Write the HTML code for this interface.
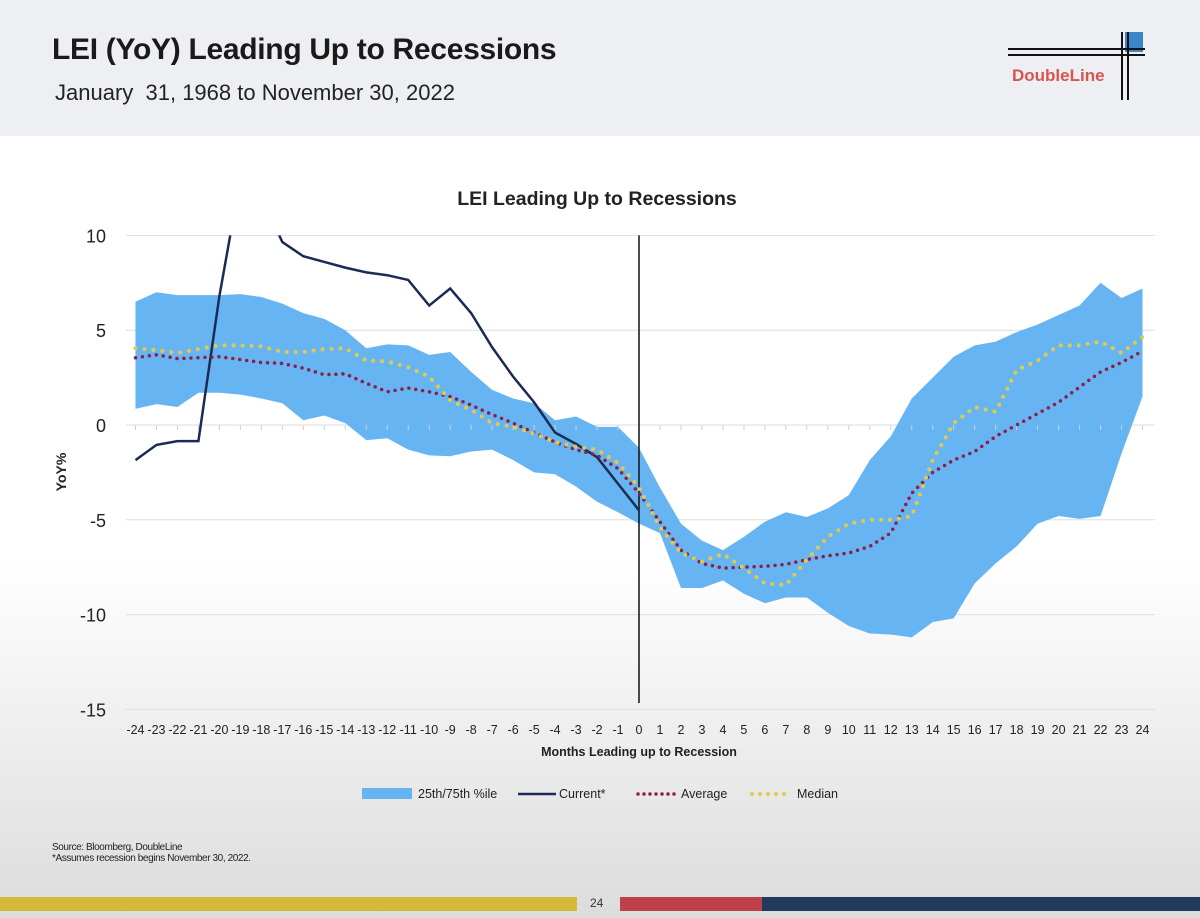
<!DOCTYPE html>
<html><head><meta charset="utf-8"><style>
body{margin:0;width:1200px;height:918px;overflow:hidden;font-family:"Liberation Sans",sans-serif;background:linear-gradient(#ffffff 0px,#ffffff 560px,#dcdcdc 918px);position:relative}
#hdr{position:absolute;left:0;top:0;width:1200px;height:136px;background:#edeff2}
.abs{position:absolute}
</style></head><body>
<div id="hdr"></div>
<div class="abs" style="left:52px;top:33px;font-size:30px;font-weight:bold;color:#1a1a1a;letter-spacing:-0.3px">LEI (YoY) Leading Up to Recessions</div>
<div class="abs" style="left:55px;top:80px;font-size:22px;color:#222">January&nbsp; 31, 1968 to November 30, 2022</div>
<svg class="abs" style="left:1000px;top:28px" width="160" height="80">
<rect x="125" y="4" width="18" height="20" fill="#3a86c8"/>
<line x1="8" y1="21" x2="145" y2="21" stroke="#111" stroke-width="2"/>
<line x1="8" y1="27" x2="145" y2="27" stroke="#111" stroke-width="2"/>
<line x1="122" y1="4" x2="122" y2="72" stroke="#111" stroke-width="2"/>
<line x1="128" y1="4" x2="128" y2="72" stroke="#111" stroke-width="2"/>
<text x="12" y="53" font-size="17" font-weight="bold" fill="#d9534f" font-family="Liberation Sans, sans-serif">DoubleLine</text>
</svg>
<svg id="chart" class="abs" style="left:0;top:0" width="1200" height="918"></svg>
<div class="abs" style="left:52px;top:842px;font-size:10px;color:#222;letter-spacing:-0.4px">Source: Bloomberg, DoubleLine<br>*Assumes recession begins November 30, 2022.</div>
<div class="abs" style="left:0;top:897px;width:577px;height:14px;background:#d4b93a"></div>
<div class="abs" style="left:590px;top:896px;font-size:12px;color:#333">24</div>
<div class="abs" style="left:620px;top:897px;width:142px;height:14px;background:#c0404a"></div>
<div class="abs" style="left:762px;top:897px;width:438px;height:14px;background:#1f3a5c"></div>
<script>
const months=[];for(let m=-24;m<=24;m++)months.push(m);
const upper=[6.5,7.0,6.85,6.85,6.85,6.9,6.75,6.4,5.9,5.6,5.0,4.05,4.25,4.2,3.7,3.85,2.8,1.85,1.4,1.15,0.25,0.45,-0.1,-0.1,-1.2,-3.3,-5.2,-6.1,-6.6,-5.9,-5.1,-4.6,-4.85,-4.4,-3.7,-1.85,-0.6,1.4,2.5,3.6,4.2,4.4,4.9,5.3,5.8,6.3,7.5,6.7,7.2];
const lower=[0.85,1.1,0.95,1.7,1.7,1.6,1.4,1.15,0.25,0.5,0.1,-0.8,-0.7,-1.3,-1.6,-1.65,-1.4,-1.3,-1.85,-2.5,-2.6,-3.25,-4.05,-4.6,-5.2,-5.7,-8.6,-8.6,-8.2,-8.9,-9.4,-9.1,-9.1,-9.9,-10.6,-11.0,-11.05,-11.2,-10.4,-10.2,-8.35,-7.3,-6.4,-5.2,-4.8,-4.95,-4.8,-1.5,1.5];
const current=[-1.85,-1.05,-0.85,-0.85,6.8,13,12,9.65,8.9,8.6,8.3,8.05,7.9,7.65,6.3,7.2,5.9,4.1,2.55,1.2,-0.4,-1.0,-1.7,-3.1,-4.5];
const average=[3.55,3.7,3.5,3.55,3.6,3.45,3.3,3.25,3.0,2.65,2.7,2.2,1.75,1.95,1.75,1.5,1.05,0.55,0.1,-0.4,-0.9,-1.3,-1.6,-2.3,-3.6,-5.1,-6.6,-7.3,-7.55,-7.5,-7.45,-7.35,-7.1,-6.9,-6.75,-6.4,-5.7,-3.6,-2.5,-1.85,-1.4,-0.6,0,0.6,1.2,2.0,2.8,3.3,3.9];
const median=[4.05,3.95,3.8,4.0,4.2,4.2,4.15,3.85,3.85,4.0,4.05,3.4,3.35,3.05,2.55,1.3,0.8,0.1,-0.1,-0.45,-0.9,-1.15,-1.3,-2.0,-3.3,-5.4,-6.75,-7.2,-6.8,-7.55,-8.35,-8.45,-7.1,-5.9,-5.2,-5.0,-5.0,-4.8,-1.85,0.1,0.95,0.7,2.9,3.4,4.2,4.2,4.4,3.8,4.65];
const yTicks=[10,5,0,-5,-10,-15];
const NS="http://www.w3.org/2000/svg";
const svg=document.getElementById('chart');
const X=m=>639+m*20.98;
const Y=v=>425-v*18.96;
function mk(t,a,p){const e=document.createElementNS(NS,t);for(const k in a)e.setAttribute(k,a[k]);(p||svg).appendChild(e);return e;}
const clip=mk('clipPath',{id:'pc'});mk('rect',{x:120,y:Y(10),width:1040,height:Y(-15)-Y(10)},clip);
yTicks.forEach(v=>{
 const g=mk('line',{x1:126,x2:1155,y1:Y(v),y2:Y(v),stroke:'#dedede','stroke-width':1});
 
 
 const t=mk('text',{x:106,y:Y(v)+7,'text-anchor':'end','font-size':18,fill:'#222'});t.textContent=v;
 
 
});
let pts=months.map((m,i)=>X(m)+','+Y(upper[i])).concat(months.slice().reverse().map((m,j)=>X(m)+','+Y(lower[lower.length-1-j])));
const band=mk('polygon',{points:pts.join(' '),fill:'#66b5f2'});


months.forEach(m=>{const tk=mk('line',{x1:X(m),x2:X(m),y1:Y(0),y2:Y(0)+5,stroke:'#d0d0d0'});
 
 
 const t=mk('text',{x:X(m),y:734,'text-anchor':'middle','font-size':12.5,fill:'#222'});t.textContent=m;
 
 });
const vl=mk('line',{x1:X(0),x2:X(0),y1:Y(10),y2:703,stroke:'#111','stroke-width':1.5});


const cur=mk('polyline',{points:current.map((v,i)=>X(months[i])+','+Y(v)).join(' '),fill:'none',stroke:'#1c2b55','stroke-width':2.5,'clip-path':'url(#pc)'});


const av=mk('polyline',{points:average.map((v,i)=>X(months[i])+','+Y(v)).join(' '),fill:'none',stroke:'#8b1f4a','stroke-width':3.5,'stroke-dasharray':'0 7','stroke-linecap':'round'});


const md=mk('polyline',{points:median.map((v,i)=>X(months[i])+','+Y(v)).join(' '),fill:'none',stroke:'#e0cc4a','stroke-width':4,'stroke-dasharray':'0 9','stroke-linecap':'round'});


function txt(s,a,name){const t=mk('text',a);t.textContent=s;
 
 return t;}
txt('LEI Leading Up to Recessions',{x:597,y:205,'text-anchor':'middle','font-size':19.5,'font-weight':'bold',fill:'#222'},'chart-title');
txt('Months Leading up to Recession',{x:639,y:756,'text-anchor':'middle','font-size':12.5,'font-weight':'bold',fill:'#222'},'x-axis-title');
txt('YoY%',{x:0,y:0,transform:'translate(66,472) rotate(-90)','text-anchor':'middle','font-size':14,'font-weight':'bold',fill:'#222'},'y-axis-title');
const lg=mk('g',{});


mk('rect',{x:362,y:788,width:50,height:11,fill:'#66b5f2'},lg);
txt('25th/75th %ile',{x:418,y:798,'font-size':12.5,fill:'#222'},'legend-band');
mk('line',{x1:518,x2:556,y1:794,y2:794,stroke:'#1c2b55','stroke-width':2.5},lg);
txt('Current*',{x:559,y:798,'font-size':12.5,fill:'#222'},'legend-current');
mk('line',{x1:638,x2:675,y1:794,y2:794,stroke:'#8b1f4a','stroke-width':3.5,'stroke-dasharray':'0 6','stroke-linecap':'round'},lg);
txt('Average',{x:681,y:798,'font-size':12.5,fill:'#222'},'legend-average');
mk('line',{x1:752,x2:790,y1:794,y2:794,stroke:'#e0cc4a','stroke-width':4,'stroke-dasharray':'0 8','stroke-linecap':'round'},lg);
txt('Median',{x:797,y:798,'font-size':12.5,fill:'#222'},'legend-median');
</script>
</body></html>
